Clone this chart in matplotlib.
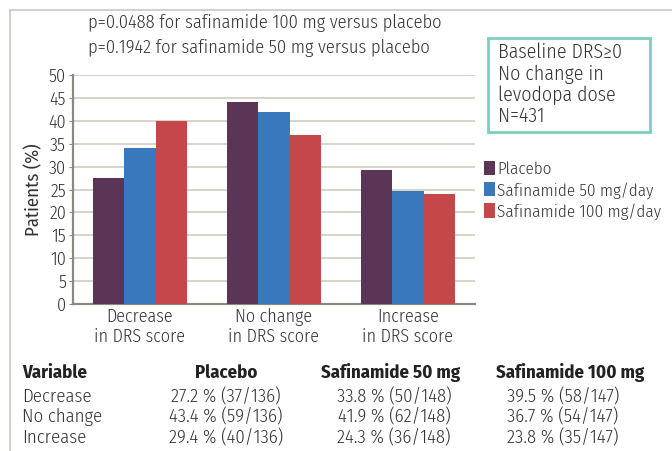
import matplotlib.pyplot as plt
from matplotlib.patches import Rectangle
from matplotlib.lines import Line2D
import numpy as np

plt.rcParams['font.family'] = ['Fira Sans Condensed', 'DejaVu Sans']
plt.rcParams['font.weight'] = 300

categories = ['Decrease\nin DRS score', 'No change\nin DRS score', 'Increase\nin DRS score']
series = ['Placebo', 'Safinamide 50 mg/day', 'Safinamide 100 mg/day']
placebo = [27.5, 44.0, 29.2]
safi50 = [34.0, 42.0, 24.7]
safi100 = [40.0, 36.8, 24.1]
colors = ['#5a3556', '#3a78be', '#c6474a']

table_header = ['Variable', 'Placebo', 'Safinamide 50 mg', 'Safinamide 100 mg']
table_rows = [
    ['Decrease', '27.2 % (37/136)', '33.8 % (50/148)', '39.5 % (58/147)'],
    ['No change', '43.4 % (59/136)', '41.9 % (62/148)', '36.7 % (54/147)'],
    ['Increase', '29.4 % (40/136)', '24.3 % (36/148)', '23.8 % (35/147)'],
]

W, H = 672, 451
fig = plt.figure(figsize=(W / 100, H / 100), dpi=100)
ax = fig.add_axes([73 / W, 1 - 304 / H, 402 / W, 229 / H])

x = np.arange(len(categories))
w = 0.232
for i, (vals, name) in enumerate(zip([placebo, safi50, safi100], series)):
    ax.bar(x + (i - 1) * w, vals, w, color=colors[i], label=name, zorder=3)

ax.set_xlim(-0.5, 2.5)
ax.set_ylim(0, 50)
ax.set_yticks(range(0, 51, 5))
ax.set_xticks(x)
ax.set_xticklabels(categories, fontsize=13, color='#333333', linespacing=1.15)
ax.tick_params(axis='y', labelsize=13, colors='#333333', length=3, color='#888888', pad=2)
ax.tick_params(axis='x', length=0, pad=3)
ax.yaxis.grid(True, color='#d3d0c4', linewidth=1.3, zorder=0)
for s in ['top', 'right']:
    ax.spines[s].set_visible(False)
for s in ['left', 'bottom']:
    ax.spines[s].set_color('#8a8a80')
    ax.spines[s].set_linewidth(1.6)
ax.set_ylabel('Patients (%)', fontsize=13.5, color='#333333', labelpad=4)

ax.legend(loc='upper left', bbox_to_anchor=(1.0, 0.665), frameon=False, fontsize=12.3,
          handlelength=0.6, handleheight=0.9, handletextpad=0.15, labelspacing=0.25,
          borderaxespad=0.15, labelcolor='#333333')

# outer frame lines
fig.add_artist(Line2D([10 / W, 1], [1 - 10 / H, 1 - 10 / H], color='#c8c8c0', lw=1.2))
fig.add_artist(Line2D([10 / W, 10 / W], [0, 1 - 10 / H], color='#c8c8c0', lw=1.2))

fig.text(88 / W, 1 - 23 / H, 'p=0.0488 for safinamide 100 mg versus placebo',
         fontsize=13.3, color='#333333', va='center')
fig.text(88 / W, 1 - 48 / H, 'p=0.1942 for safinamide 50 mg versus placebo',
         fontsize=13.3, color='#333333', va='center')

fig.add_artist(Rectangle((488 / W, 1 - 132 / H), 162 / W, 94 / H, fill=False,
                         edgecolor='#7ccfc0', linewidth=2))
fig.text(498 / W, 1 - 43 / H, 'Baseline DRS\u22650\nNo change in\nlevodopa dose\nN=431',
         fontsize=14.3, color='#333333', va='top', linespacing=1.1)

col_x = [22, 226, 391, 570]
for j, h in enumerate(table_header):
    fig.text(col_x[j] / W, 1 - 373 / H, h, fontsize=13.5, fontweight='bold', color='#222222',
             ha='left' if j == 0 else 'center', va='center')
data_x = [22, 226, 394, 563]
for r, row in enumerate(table_rows):
    yy = [397, 417, 438][r]
    for j, v in enumerate(row):
        fig.text(data_x[j] / W, 1 - yy / H, v, fontsize=13.5, color='#333333',
                 ha='left' if j == 0 else 'center', va='center')

fig.savefig('out.png', dpi=100)
